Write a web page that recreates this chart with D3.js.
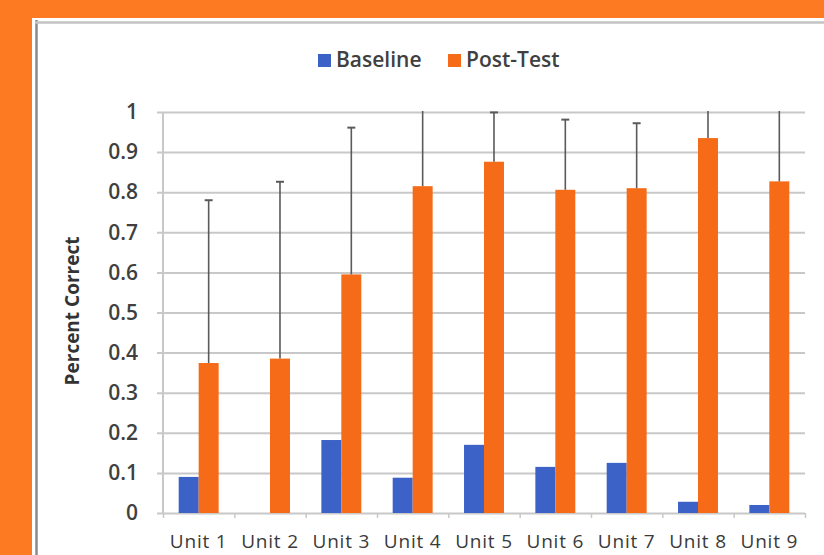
<!DOCTYPE html>
<html>
<head>
<meta charset="utf-8">
<script src="https://cdn.jsdelivr.net/npm/d3@7"></script>
<style>
  html, body { margin: 0; padding: 0; background: #fd7a22; }
  svg { display: block; }
</style>
</head>
<body>
<div id="chart"></div>
<script>
// data
const units = ["Unit 1", "Unit 2", "Unit 3", "Unit 4", "Unit 5", "Unit 6", "Unit 7", "Unit 8", "Unit 9"]
const seriesNames = ["Baseline", "Post-Test"]
const baseline = [0.09, 0, 0.182, 0.088, 0.17, 0.115, 0.125, 0.028, 0.02]
const postTest = [0.374, 0.385, 0.595, 0.815, 0.876, 0.806, 0.81, 0.935, 0.827]
const postError = [0.406, 0.441, 0.366, 0.22, 0.123, 0.175, 0.162, 0.12, 0.2]
const yTicks = [0, 0.1, 0.2, 0.3, 0.4, 0.5, 0.6, 0.7, 0.8, 0.9, 1]

async function drawChart() {
  // 1. Dimensions
  let dimensions = {
    width: 824,
    height: 555,
    margin: { top: 112, right: 19, bottom: 42, left: 163 },
  }
  dimensions.boundedWidth = dimensions.width - dimensions.margin.left - dimensions.margin.right
  dimensions.boundedHeight = dimensions.height - dimensions.margin.top - dimensions.margin.bottom

  const colours = ["#3c62c8", "#f56b17"]
  const font = "'Open Sans', sans-serif"

  // 2. Canvas
  const wrapper = d3.select("#chart")
    .append("svg")
      .attr("width", dimensions.width)
      .attr("height", dimensions.height)

  // white panel on the orange page
  wrapper.append("rect")
    .attr("x", 32).attr("y", 18)
    .attr("width", dimensions.width - 32)
    .attr("height", dimensions.height - 18)
    .attr("fill", "white")
  wrapper.append("line")
    .attr("x1", 36.5).attr("x2", 36.5).attr("y1", 20).attr("y2", dimensions.height)
    .attr("stroke", "#8a8a8a").attr("stroke-width", 2.5)
  wrapper.append("line")
    .attr("x1", 35).attr("x2", dimensions.width).attr("y1", 22.5).attr("y2", 22.5)
    .attr("stroke", "#c4c4c4").attr("stroke-width", 2.5)

  const bounds = wrapper.append("g")
    .attr("transform", `translate(${dimensions.margin.left},${dimensions.margin.top})`)

  // 3. Scales
  const xScale = d3.scaleBand()
    .domain(units)
    .range([0, dimensions.boundedWidth])
    .paddingInner(0.44)
    .paddingOuter(0.22)

  const xSub = d3.scaleBand()
    .domain(seriesNames)
    .range([0, xScale.bandwidth()])

  const xEdges = d3.scaleLinear()
    .domain([0, units.length])
    .range([0, dimensions.boundedWidth])

  const yScale = d3.scaleLinear()
    .domain([0, 1])
    .range([dimensions.boundedHeight, 0])

  // 4. Grid and axes
  const grid = bounds.append("g")
    .attr("transform", "translate(-6,0)")
    .call(d3.axisRight(yScale).tickValues(yTicks).tickFormat("").tickSize(dimensions.boundedWidth + 6))
  grid.select(".domain").remove()
  grid.selectAll("line").attr("stroke", "#c8c8c8").attr("stroke-width", 2)

  bounds.append("line")
    .attr("x1", 0).attr("x2", 0)
    .attr("y1", 0).attr("y2", dimensions.boundedHeight)
    .attr("stroke", "#c8c8c8").attr("stroke-width", 2)

  const yAxis = bounds.append("g")
    .call(d3.axisLeft(yScale).tickValues(yTicks).tickFormat(d3.format("~g")).tickSize(0).tickPadding(25))
  yAxis.select(".domain").remove()
  yAxis.selectAll("text")
    .style("font-family", font).style("font-size", "21px").style("font-weight", 600)
    .attr("fill", "#404040")

  const xTicks = bounds.append("g")
    .attr("transform", `translate(0,${dimensions.boundedHeight})`)
    .call(d3.axisBottom(xEdges).tickValues(d3.range(units.length + 1)).tickFormat("").tickSize(5))
  xTicks.select(".domain").remove()
  xTicks.selectAll("line").attr("stroke", "#c8c8c8").attr("stroke-width", 1.5)

  const xAxis = bounds.append("g")
    .attr("transform", `translate(0,${dimensions.boundedHeight})`)
    .call(d3.axisBottom(xScale).tickSize(0).tickPadding(22))
  xAxis.select(".domain").remove()
  xAxis.selectAll("text")
    .style("font-family", font).style("font-size", "19px").style("font-weight", 500)
    .style("letter-spacing", "0.8px")
    .attr("fill", "#3a3a3a")

  // 5. Bars
  const rows = units.map((u, i) => ({
    unit: u,
    values: [
      { series: seriesNames[0], value: baseline[i] },
      { series: seriesNames[1], value: postTest[i], err: postError[i] },
    ],
  }))

  const groups = bounds.selectAll(".unit")
    .data(rows)
    .enter().append("g")
      .attr("class", "unit")
      .attr("transform", d => `translate(${xScale(d.unit)},0)`)

  groups.selectAll("rect")
    .data(d => d.values)
    .enter().append("rect")
      .attr("x", d => xSub(d.series))
      .attr("width", xSub.bandwidth())
      .attr("y", d => yScale(d.value))
      .attr("height", d => yScale(0) - yScale(d.value))
      .attr("fill", (d, i) => colours[i])

  // error bars, cut at the top of the axis
  bounds.append("clipPath").attr("id", "plot-clip")
    .append("rect")
      .attr("x", -10).attr("y", yScale(1) - 1)
      .attr("width", dimensions.boundedWidth + 20)
      .attr("height", dimensions.boundedHeight + 1)

  const errLayer = bounds.append("g").attr("clip-path", "url(#plot-clip)")
  const errX = d => xScale(d.unit) + xSub(seriesNames[1]) + xSub.bandwidth() / 2
  const errRows = units.map((u, i) => ({ unit: u, value: postTest[i], err: postError[i] }))

  errLayer.selectAll(".err")
    .data(errRows)
    .enter().append("line")
      .attr("x1", errX).attr("x2", errX)
      .attr("y1", d => yScale(d.value))
      .attr("y2", d => yScale(d.value + d.err))
      .attr("stroke", "#5a5a5a").attr("stroke-width", 1.6)

  errLayer.selectAll(".cap")
    .data(errRows)
    .enter().append("line")
      .attr("x1", d => errX(d) - 4).attr("x2", d => errX(d) + 4)
      .attr("y1", d => yScale(d.value + d.err))
      .attr("y2", d => yScale(d.value + d.err))
      .attr("stroke", "#5a5a5a").attr("stroke-width", 2)

  // 6. Legend and axis title
  const legend = wrapper.append("g").attr("transform", "translate(318,54)")
  const legendX = [0, 130]
  seriesNames.forEach((name, i) => {
    const item = legend.append("g").attr("transform", `translate(${legendX[i]},0)`)
    item.append("rect").attr("width", 13).attr("height", 13).attr("fill", colours[i])
    item.append("text")
      .attr("x", 18).attr("y", 13)
      .style("font-family", font).style("font-size", "21px").style("font-weight", 600)
      .attr("fill", "#404040")
      .text(name)
  })

  wrapper.append("text")
    .attr("transform", "translate(79,311) rotate(-90)")
    .attr("text-anchor", "middle")
    .style("font-family", font).style("font-size", "19px").style("font-weight", 700)
    .attr("fill", "#333")
    .text("Percent Correct")
}
drawChart()
</script>
</body>
</html>
